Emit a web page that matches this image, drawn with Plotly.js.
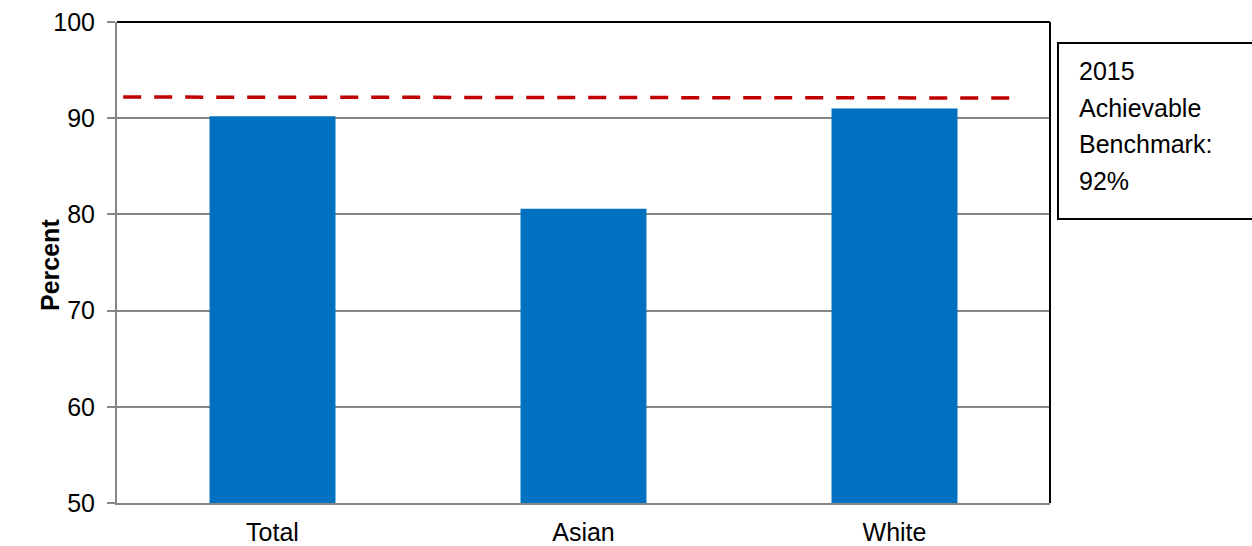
<!DOCTYPE html>
<html>
<head>
<meta charset="utf-8">
<script src="https://cdn.plot.ly/plotly-3.0.1.min.js"></script>
<style>html,body{margin:0;padding:0;background:#fff;}</style>
</head>
<body>
<div id="chart" style="width:1252px;height:546px;"></div>
<script>
const categories = ["Total", "Asian", "White"];
const percentValues = [90.2, 80.6, 91.0];
const benchmarkX = [-0.48, 2.4];
const benchmarkY = [92.2, 92.1];
const yTickValues = [50, 60, 70, 80, 90, 100];
const boxLines = ["2015", "Achievable", "Benchmark:", "92%"];
const yAxisTitle = "Percent";

const FONT = "Liberation Sans, Arial, sans-serif";
const PLOT_L = 117, PLOT_R = 1050, PLOT_T = 22, PLOT_B = 503;
const W = 1252, H = 546;
const pw = PLOT_R - PLOT_L, ph = PLOT_B - PLOT_T;
const px = x => (x - PLOT_L) / pw;
const py = y => (PLOT_B - y) / ph;

const traces = [
  {
    type: "bar",
    x: categories,
    y: percentValues,
    width: 0.405,
    marker: {color: "#0070C0"},
    hoverinfo: "x+y"
  },
  {
    type: "scatter",
    mode: "lines",
    x: benchmarkX,
    y: benchmarkY,
    xaxis: "x2",
    line: {color: "#C00000", width: 3.5, dash: "18px,13px"},
    hoverinfo: "skip"
  }
];

const annotations = boxLines.map((t, i) => ({
  text: t,
  xref: "paper", yref: "paper",
  x: px(1077), y: py(71 + i * 36.5),
  xanchor: "left", yanchor: "middle",
  showarrow: false,
  font: {family: FONT, size: 25, color: "#000"}
}));
annotations.push({
  text: "<b>" + yAxisTitle + "</b>",
  xref: "paper", yref: "paper",
  x: px(50), y: py(265),
  xanchor: "center", yanchor: "middle",
  textangle: -90,
  showarrow: false,
  font: {family: FONT, size: 25, color: "#000"}
});

const layout = {
  width: W, height: H,
  margin: {l: PLOT_L, r: W - PLOT_R, t: PLOT_T, b: H - PLOT_B, pad: 0},
  paper_bgcolor: "#fff",
  plot_bgcolor: "#fff",
  showlegend: false,
  xaxis: {
    type: "category",
    range: [-0.5, 2.5],
    showline: true, linecolor: "#868686", linewidth: 2,
    ticks: "", showgrid: false, zeroline: false,
    tickfont: {family: FONT, size: 25, color: "#000"},
    ticklabelstandoff: 6,
    fixedrange: true
  },
  xaxis2: {
    overlaying: "x", range: [-0.5, 2.5], visible: false, fixedrange: true
  },
  yaxis: {
    range: [50, 100],
    tickvals: yTickValues,
    showline: true, linecolor: "#868686", linewidth: 2,
    ticks: "outside", ticklen: 8, tickcolor: "#868686", tickwidth: 2,
    showgrid: true, gridcolor: "#868686", gridwidth: 2,
    zeroline: false,
    tickfont: {family: FONT, size: 25, color: "#000"},
    ticklabelstandoff: 7,
    fixedrange: true
  },
  shapes: [
    {type: "line", xref: "paper", yref: "paper", x0: 0, x1: 1, y0: 1, y1: 1, line: {color: "#000", width: 2}},
    {type: "line", xref: "paper", yref: "paper", x0: 1, x1: 1, y0: 0, y1: 1, line: {color: "#000", width: 2}},
    {type: "rect", xref: "paper", yref: "paper", x0: px(1058), x1: px(1270), y0: py(219), y1: py(43), line: {color: "#000", width: 2}, fillcolor: "rgba(0,0,0,0)"}
  ],
  annotations: annotations
};

Plotly.newPlot("chart", traces, layout, {displayModeBar: false, staticPlot: true});
</script>
</body>
</html>
